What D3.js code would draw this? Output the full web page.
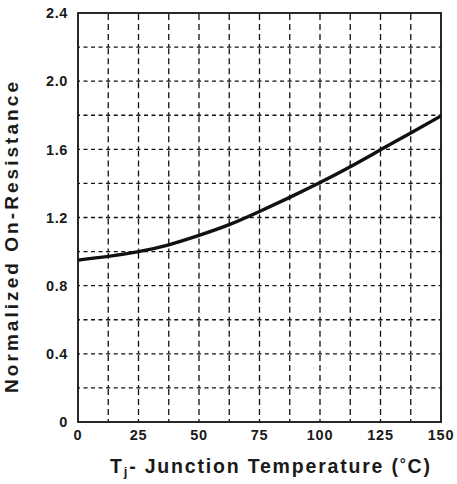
<!DOCTYPE html>
<html><head><meta charset="utf-8">
<script src="https://cdn.jsdelivr.net/npm/d3@7"></script>
<style>body{margin:0;background:#fff}svg{display:block}text{font-family:Arial,"Liberation Sans",sans-serif;font-weight:bold;fill:#1a1a1a}</style>
</head><body>
<svg id="c" width="457" height="484"></svg>
<script>
const temps = [0,12.5,25,37.5,50,62.5,75,87.5,100,112.5,125,137.5,150];
const resistance = [0.95,0.972,1.0,1.04,1.095,1.158,1.235,1.318,1.405,1.498,1.597,1.696,1.796];
const xTicks = [0,25,50,75,100,125,150];
const yTicks = [0,0.4,0.8,1.2,1.6,2.0,2.4];
const xGrid = d3.range(0,150.01,12.5);
const yGrid = d3.range(0,2.401,0.2);

const L=78,R=441,T=13,B=422;
const svg=d3.select("#c");
const x=d3.scaleLinear().domain([0,150]).range([L,R]);
const y=d3.scaleLinear().domain([0,2.4]).range([B,T]);

const g=svg.append("g");
for(let i=1;i<xGrid.length-1;i++){
  for(let j=0;j<yGrid.length-1;j++){
    g.append("line").attr("x1",x(xGrid[i])).attr("x2",x(xGrid[i]))
     .attr("y1",y(yGrid[j])).attr("y2",y(yGrid[j+1]))
     .attr("stroke","#111").attr("stroke-width",1.3).attr("stroke-dasharray","6,4").attr("stroke-dashoffset",3);
  }
}
for(let j=1;j<yGrid.length-1;j++){
  for(let i=0;i<xGrid.length-1;i++){
    g.append("line").attr("x1",x(xGrid[i])).attr("x2",x(xGrid[i+1]))
     .attr("y1",y(yGrid[j])).attr("y2",y(yGrid[j]))
     .attr("stroke","#111").attr("stroke-width",1.3).attr("stroke-dasharray","4,3.5").attr("stroke-dashoffset",2);
  }
}
svg.append("rect").attr("x",L).attr("y",T).attr("width",R-L).attr("height",B-T)
  .attr("fill","none").attr("stroke","#111").attr("stroke-width",1.8);

const line=d3.line().x((d,i)=>x(temps[i])).y(d=>y(d)).curve(d3.curveNatural);
svg.append("path").attr("d",line(resistance)).attr("fill","none")
  .attr("stroke","#111").attr("stroke-width",3.4);

svg.selectAll(".xl").data(xTicks).enter().append("text")
  .attr("x",d=>x(d)).attr("y",440).attr("text-anchor","middle")
  .attr("font-size",14.5).attr("letter-spacing",0.8).text(d=>d);
svg.selectAll(".yl").data(yTicks).enter().append("text")
  .attr("x",68).attr("y",d=>y(d)).attr("dy","0.36em").attr("text-anchor","end")
  .attr("font-size",14.5).attr("letter-spacing",0.6).text(d=>d===0?"0":d.toFixed(1));

const xt=svg.append("text").attr("x",110).attr("y",473).attr("text-anchor","start")
  .attr("font-size",19.5).attr("textLength",320).attr("lengthAdjust","spacing");
xt.append("tspan").text("T");
xt.append("tspan").attr("font-size",13).attr("dy",3).text("j");
xt.append("tspan").attr("dy",-3).text("- Junction Temperature (");
xt.append("tspan").attr("font-size",15).attr("dy",-4).text("°");
xt.append("tspan").attr("dy",4).text("C)");

svg.append("text").attr("transform","translate(17.5,393) rotate(-90)")
  .attr("text-anchor","start").attr("font-size",19)
  .attr("textLength",311).attr("lengthAdjust","spacing")
  .text("Normalized On-Resistance");
</script>
</body></html>
